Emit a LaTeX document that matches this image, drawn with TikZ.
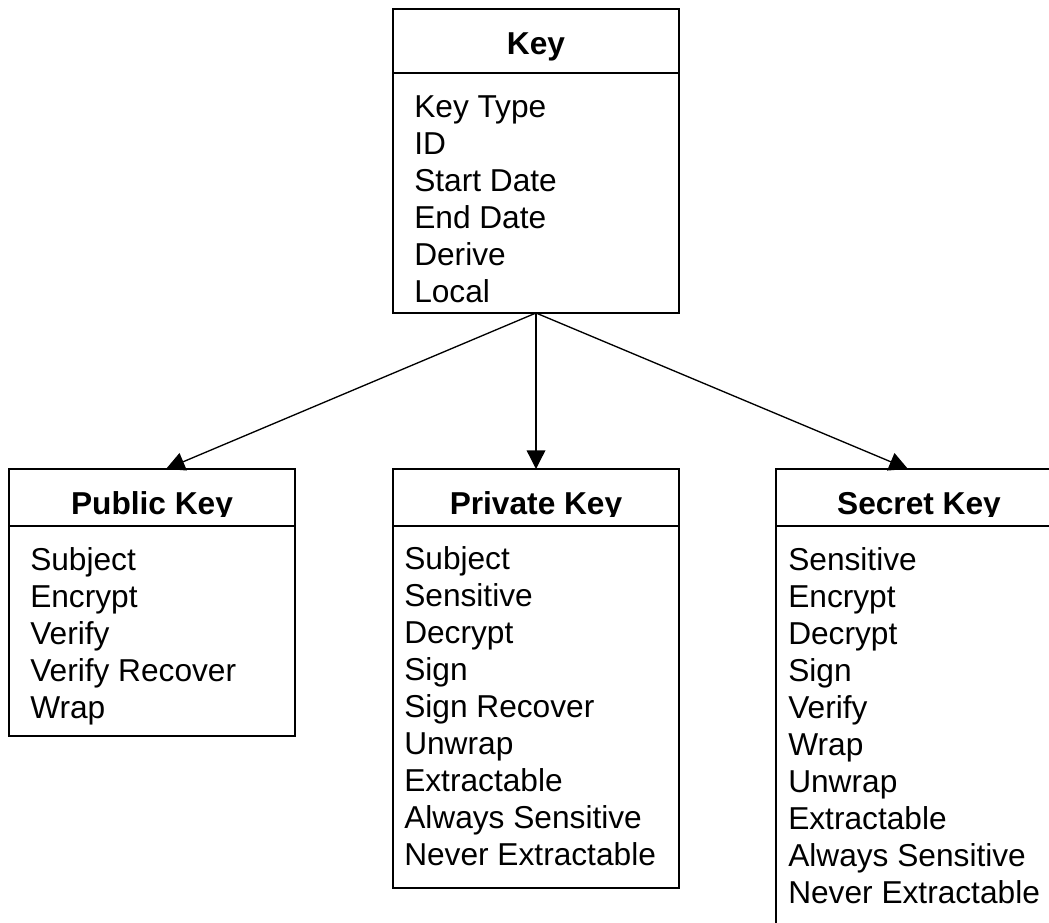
\documentclass[tikz,border=0pt]{standalone}
\usepackage{fontspec}
\setmainfont{Liberation Sans}
\usetikzlibrary{arrows.meta}
\tikzset{
  classbox/.style={draw, line width=1.3pt, minimum width=214.5pt, inner sep=0pt, outer sep=0pt},
  classname/.style={font=\fontsize{23.75}{27.75}\selectfont\bfseries, inner sep=0pt, anchor=base},
  attrlist/.style={font=\fontsize{23.75}{27.75}\selectfont, align=left, inner sep=0pt, anchor=north west},
  inherit/.style={-{Triangle[length=14pt,width=14pt]}, line width=1pt}
}
\begin{document}
\begin{tikzpicture}[x=0.75pt,y=-0.75pt]
  \clip (0,0) rectangle (1049,923);
  % base class
  \node[classbox, minimum height=48pt] (key) at (536,41) {};
  \node[classbox, minimum height=180pt, anchor=north] (keybody) at (key.south) {};
  \draw[line width=2pt] (key.south west) -- (key.south east);
  \node[classname] (keyname) at ([yshift=13.5pt]key.south) {Key};
  \node[attrlist] (keyattr) at ([xshift=15.75pt,yshift=-16.5pt]keybody.north west)
    {Key Type\\ID\\Start Date\\End Date\\Derive\\Local};
  % derived classes
  \node[classbox, minimum height=42.75pt] (pub) at (152,497.5) {};
  \node[classbox, minimum height=157.5pt, anchor=north] (pubbody) at (pub.south) {};
  \draw[line width=2pt] (pub.south west) -- (pub.south east);
  \node[attrlist] (pubattr) at ([xshift=15.75pt,yshift=-15.75pt]pubbody.north west)
    {Subject\\Encrypt\\Verify\\Verify Recover\\Wrap};
  \node[classbox, minimum height=42.75pt] (priv) at (536,497.5) {};
  \node[classbox, minimum height=271.5pt, anchor=north] (privbody) at (priv.south) {};
  \draw[line width=2pt] (priv.south west) -- (priv.south east);
  \node[attrlist] (privattr) at ([xshift=8.25pt,yshift=-15pt]privbody.north west)
    {Subject\\Sensitive\\Decrypt\\Sign\\Sign Recover\\Unwrap\\Extractable\\Always Sensitive\\Never Extractable};
  \node[classbox, minimum height=42.75pt] (sec) at (919,497.5) {};
  \node[classbox, minimum height=300pt, anchor=north] (secbody) at (sec.south) {};
  \draw[line width=2pt] (sec.south west) -- (sec.south east);
  \node[attrlist] (secattr) at ([xshift=9pt,yshift=-15.75pt]secbody.north west)
    {Sensitive\\Encrypt\\Decrypt\\Sign\\Verify\\Wrap\\Unwrap\\Extractable\\Always Sensitive\\Never Extractable};
  % titles cut just under the baseline
  \begin{scope}
    \clip (0,0) rectangle (1049,516);
    \node[classname] (pubname) at ([yshift=9pt]pub.south) {Public Key};
    \node[classname] (privname) at ([yshift=9pt]priv.south) {Private Key};
    \node[classname] (secname) at ([yshift=9pt]sec.south) {Secret Key};
  \end{scope}
  % inheritance arrows
  \draw[inherit] (keybody.south) -- ([xshift=10.5pt]pub.north);
  \draw[inherit] (keybody.south) -- (priv.north);
  \draw[inherit] (keybody.south) -- ([xshift=-8.25pt]sec.north);
\end{tikzpicture}
\end{document}
